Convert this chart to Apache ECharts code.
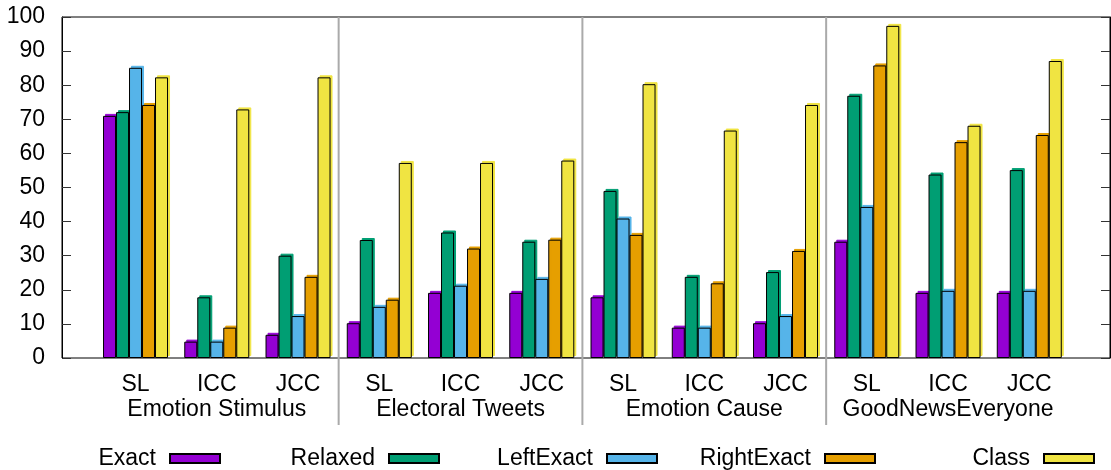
<!DOCTYPE html>
<html><head><meta charset="utf-8">
<script src="https://cdn.jsdelivr.net/npm/echarts@6/dist/echarts.min.js"></script>
<style>html,body{margin:0;padding:0;background:#fff}#c{width:1111px;height:470px}</style>
</head><body><div id="c"></div>
<script>
const categories = ['SL','ICC','JCC','SL','ICC','JCC','SL','ICC','JCC','SL','ICC','JCC'];
const groups = ['Emotion Stimulus','Electoral Tweets','Emotion Cause','GoodNewsEveryone'];
const seriesNames = ['Exact','Relaxed','LeftExact','RightExact','Class'];
const exact      = [71.0, 4.8, 6.8, 10.2, 19.1, 19.1, 17.8, 8.9, 10.2, 34.1, 19.1, 19.1];
const relaxed    = [72.1, 17.8, 30.0, 34.6, 36.8, 34.1, 49.0, 23.8, 25.2, 76.9, 53.8, 55.1];
const leftExact  = [85.1, 4.8, 12.3, 15.0, 21.2, 23.2, 40.9, 8.9, 12.3, 44.3, 19.7, 19.7];
const rightExact = [74.2, 8.9, 23.8, 17.1, 32.1, 34.7, 36.1, 21.9, 31.4, 85.8, 63.3, 65.4];
const classVals  = [82.3, 72.9, 82.3, 57.2, 57.2, 57.9, 80.3, 66.7, 74.2, 97.4, 68.1, 87.1];
const yMin = 0, yMax = 100, yStep = 10;

const values = [exact, relaxed, leftExact, rightExact, classVals];
const colors = ['#9400D3','#009E73','#56B4E9','#E69F00','#F0E442'];
const FONT = 'Liberation Sans, Arial, sans-serif';
const legendRight = [890, 671, 453, 235, 16];

const chart = echarts.init(document.getElementById('c'), null, {renderer:'canvas'});
const option = {
  animation: false,
  backgroundColor: '#fff',
  textStyle: {fontFamily: FONT},
  grid: [
    {left: 62, right: 1, top: 17, bottom: 112, show: true, borderColor: '#000', borderWidth: 1, backgroundColor: 'transparent'},
    {left: 94.9, right: 41.1, top: 17, bottom: 112}
  ],
  xAxis: [
    {gridIndex: 0, type: 'value', min: 0, max: 1, show: false},
    {gridIndex: 1, type: 'category', data: categories,
     axisLine: {show: false}, axisTick: {show: false}, splitLine: {show: false},
     axisLabel: {interval: 0, fontSize: 23, color: '#000', fontFamily: FONT, lineHeight: 25, margin: 14, hideOverlap: false,
       formatter: (v, i) => (i % 3 === 1 ? v + '\n' + groups[(i - 1) / 3] : v)}}
  ],
  yAxis: [
    {gridIndex: 0, type: 'value', min: yMin, max: yMax, interval: yStep, position: 'left',
     axisLine: {show: true, lineStyle: {color: '#000', width: 1}},
     axisTick: {show: true, inside: true, length: 9, lineStyle: {color: '#333'}},
     axisLabel: {fontSize: 23, color: '#000', margin: 17, fontFamily: FONT},
     splitLine: {show: false}},
    {gridIndex: 0, type: 'value', min: yMin, max: yMax, interval: yStep, position: 'right',
     axisLine: {show: true, lineStyle: {color: '#000', width: 1}},
     axisTick: {show: true, inside: true, length: 9, lineStyle: {color: '#333'}},
     axisLabel: {show: false}, splitLine: {show: false}},
    {gridIndex: 1, type: 'value', min: yMin, max: yMax, show: false}
  ],
  legend: seriesNames.map((n, i) => ({
    data: [n], right: legendRight[i], top: 447, padding: 0, align: 'right',
    itemWidth: 50, itemHeight: 9, icon: 'rect', selectedMode: false,
    textStyle: {fontSize: 23, color: '#000', fontFamily: FONT, lineHeight: 23, padding: [0, 9, 0, 0]}
  })),
  series: seriesNames.map((n, i) => ({
    name: n, type: 'bar', xAxisIndex: 1, yAxisIndex: 2, data: values[i],
    barGap: '0%', barCategoryGap: '20%', z: 3,
    itemStyle: {color: colors[i], borderColor: '#000', borderWidth: 1,
      shadowColor: colors[i], shadowOffsetX: 2, shadowOffsetY: -2, shadowBlur: 0}
  }))
};
chart.setOption(option);

// group separators between category groups
const yTop = chart.convertToPixel({yAxisIndex: 2}, yMax);
const lines = [];
for (let g = 1; g < groups.length; g++) {
  const a = chart.convertToPixel({xAxisIndex: 1}, g * 3 - 1);
  const b = chart.convertToPixel({xAxisIndex: 1}, g * 3);
  const x = (a + b) / 2;
  lines.push({type: 'line', z: 1, silent: true,
    shape: {x1: x, y1: yTop, x2: x, y2: 425},
    style: {stroke: '#aaaaaa', lineWidth: 2}});
}
chart.setOption({graphic: lines});
</script>
</body></html>
